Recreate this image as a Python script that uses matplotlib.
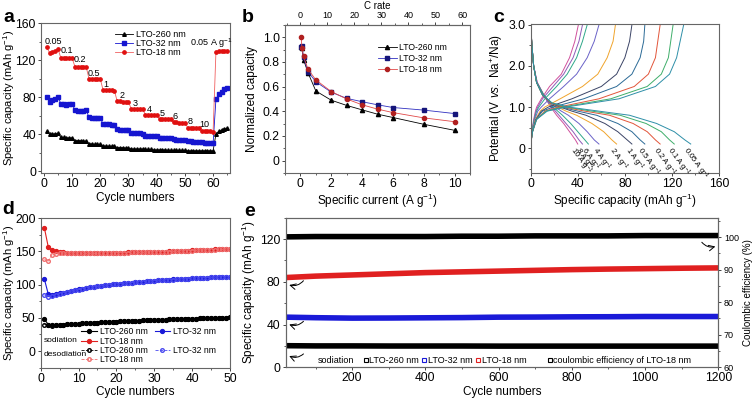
import matplotlib.pyplot as plt
from matplotlib.ticker import MultipleLocator, FixedLocator
from matplotlib.lines import Line2D

plt.rcParams['font.family'] = ['Liberation Sans', 'DejaVu Sans']
plt.rcParams['mathtext.fontset'] = 'custom'
plt.rcParams['mathtext.rm'] = 'Liberation Sans'
plt.rcParams['mathtext.it'] = 'Liberation Sans:italic'
plt.rcParams['axes.edgecolor'] = '#666666'
plt.rcParams['axes.linewidth'] = 0.8
plt.rcParams['xtick.color'] = '#444444'
plt.rcParams['ytick.color'] = '#444444'
plt.rcParams['xtick.labelcolor'] = 'black'
plt.rcParams['ytick.labelcolor'] = 'black'

# ---------------- panel a: rate capability ----------------
cycles_a = list(range(1, 66))
cap260_a = [43, 40, 40, 40.5, 41, 36.5, 36.5, 36, 36, 36, 33, 33, 33, 32.5, 32.5,
            29.5, 29.5, 29, 29, 29, 27.5, 27, 27, 27, 27, 25.5, 25.5, 25.5, 25, 25,
            24, 24, 24, 24, 24, 23.5, 23.5, 23.5, 23, 23, 23, 23, 23, 22.5, 22.5,
            22.5, 22.5, 22.5, 22.5, 22.5, 22, 22, 22, 22, 22, 22, 22, 22, 22, 22,
            40, 43, 44.5, 46, 46.5]
cap32_a = [80, 75, 76.5, 78, 80, 73, 72, 71.5, 72, 73, 66, 65, 65, 65, 66,
           58, 57.5, 57, 57, 57, 51, 50.5, 50.5, 50, 50, 45, 44.5, 44.5, 44, 44,
           41.5, 41, 41, 41, 40.5, 38.5, 38.5, 38, 38, 38, 36, 36, 35.8, 35.5, 35.5,
           34.5, 34, 34, 34, 33.8, 32.5, 32.2, 32, 32, 32, 31, 30.5, 30.4, 30.3, 30.2,
           77.7, 83, 86, 88.4, 90]
cap18_a = [134, 128, 129, 130, 132, 122.5, 122.5, 122.5, 122.3, 122.3,
           113, 112.8, 112.8, 112.5, 112.5, 100, 100, 99.8, 99.5, 99.5,
           87.5, 87.3, 87.3, 87.2, 87, 75.5, 75.3, 75.2, 75, 75,
           67, 67, 67, 66.8, 66.8, 61, 60.8, 60.8, 60.7, 60.6,
           56.3, 56.2, 56.2, 56, 56, 52.7, 52.6, 52.5, 52.5, 52.4,
           47, 46.8, 46.8, 46.7, 46.6, 43, 43, 43, 42.9, 42.8,
           129, 129.5, 129.5, 130, 130]
rate_labels_a = ['0.05', '0.1', '0.2', '0.5', '1', '2', '3', '4', '5', '6', '8', '10']
rate_label_x = [3.2, 8.2, 12.8, 17.8, 22, 27.7, 32.5, 37.3, 42.1, 46.6, 51.8, 57]
rate_label_y = [140, 130, 120.5, 105.5, 93.5, 82, 73, 67, 62.5, 59.5, 53.5, 50]

# ---------------- panel b: normalized capacity ----------------
current_b = [0.05, 0.1, 0.2, 0.5, 1, 2, 3, 4, 5, 6, 8, 10]
norm260_b = [0.92, 0.91, 0.82, 0.71, 0.565, 0.49, 0.448, 0.412, 0.377, 0.35, 0.295, 0.246]
norm32_b = [0.92, 0.93, 0.84, 0.72, 0.64, 0.555, 0.505, 0.478, 0.453, 0.431, 0.41, 0.382]
norm18_b = [1.0, 0.91, 0.845, 0.74, 0.655, 0.56, 0.50, 0.453, 0.418, 0.39, 0.347, 0.316]

# ---------------- panel c: charge/discharge profiles ----------------
rates_c = ['10', '8', '6', '4', '2', '1', '0.5', '0.2', '0.1', '0.05']
colors_c = ['#d0509c', '#8f5bb8', '#2fa88a', '#6a62c8', '#f0a42c',
            '#3b4466', '#2b6a96', '#e2553a', '#3fae6a', '#2e8fa8']
v_dis = [3.0, 2.5, 2.0, 1.6, 1.3, 1.1, 1.0, 0.9, 0.8, 0.6, 0.4, 0.2, 0.1]
dis_cap = {
    '10':   [0, 1, 2.5, 5.5, 11, 15, 17, 19.5, 22, 28, 33, 38, 40],
    '8':    [0, 1, 2.5, 5.5, 11, 15, 18, 21, 24, 30, 36, 41, 44],
    '6':    [0, 1, 2.5, 5, 11, 16, 19, 23, 27, 34, 40, 46, 49],
    '4':    [0, 1, 2.5, 5, 10, 16, 21, 26, 32, 41, 48, 54, 58],
    '2':    [0, 1, 2.5, 5, 10, 17, 23, 30, 39, 52, 62, 69, 73],
    '1':    [0, 1, 2.5, 5, 10, 17, 25, 35, 47, 63, 74, 82, 86],
    '0.5':  [0, 1, 2.5, 5, 10, 17, 26, 40, 56, 74, 86, 93, 97],
    '0.2':  [0, 1, 2.5, 5, 10, 17, 28, 46, 67, 87, 99, 106, 110],
    '0.1':  [0, 1, 2.5, 5, 10, 18, 30, 52, 76, 98, 111, 118, 122],
    '0.05': [0, 1, 2.5, 5, 10, 18, 32, 58, 84, 107, 122, 131, 136],
}
v_chg = [0.1, 0.4, 0.7, 0.9, 1.0, 1.2, 1.5, 1.8, 2.2, 2.6, 3.0]
chg_cap = {
    '10':   [0, 1, 2.5, 4, 5, 9, 16, 26, 33, 37.5, 40.5],
    '8':    [0, 1, 3, 4.5, 6, 10, 19, 28, 36, 41, 44],
    '6':    [0, 1, 3, 5, 7, 12, 22, 31, 39, 44, 48],
    '4':    [0, 1.5, 3.5, 6, 9, 16, 28, 39, 48, 54, 58],
    '2':    [0, 1.5, 4, 8, 12, 25, 44, 57, 65, 70, 72],
    '1':    [0, 1.5, 4.5, 9, 15, 35, 60, 73, 80, 84, 86],
    '0.5':  [0, 1.5, 4.5, 10, 19, 45, 73, 86, 93, 96, 97],
    '0.2':  [0, 1.5, 5, 12, 24, 58, 88, 100, 106, 108, 110],
    '0.1':  [0, 1.5, 5, 13, 27, 68, 99, 111, 117, 119, 121],
    '0.05': [0, 1.5, 5, 14, 30, 75, 106, 118, 124, 127, 130],
}

# ---------------- panel d: cycling at low rate ----------------
cycles_d = list(range(1, 51))
sod260_d = [48, 40, 39, 39, 39.5, 40, 40.5, 41, 41, 41.5, 42, 42, 42.5, 43, 43,
            43.5, 44, 44, 44.5, 44.5, 45, 45, 45.5, 45.5, 46, 46, 46.5, 46.5, 47, 47,
            47, 47.5, 47.5, 48, 48, 48, 48.5, 48.5, 49, 49, 49, 49.5, 49.5, 49.5, 50,
            50, 50.5, 50.5, 50.5, 51]
sod32_d = [108, 86, 85, 86, 87, 88, 89.5, 90.5, 91.5, 93, 94, 95, 96, 97, 97.5,
           98.5, 99, 100, 100.5, 101, 101.5, 102, 102.5, 103, 103.5, 104, 104.5, 105, 105.5, 106,
           106.5, 107, 107, 107.5, 108, 108, 108.5, 109, 109, 109.5, 110, 110, 110.5, 110.5, 111,
           111, 111.5, 111.5, 112, 112]
sod18_d = [185, 157, 152, 150, 149, 148.5, 148, 148, 148, 147.5, 147.5, 147.5, 147.5, 147.5, 147.5,
           147.5, 147.5, 148, 148, 148, 148, 148, 148.5, 148.5, 148.5, 148.5, 149, 149, 149, 149,
           149.5, 149.5, 149.5, 150, 150, 150, 150.5, 150.5, 151, 151.5, 152, 152, 152, 152.5, 152.5,
           153, 153, 153, 153.5, 154]
des260_d = [40, 39, 38.5, 39, 39.5, 40, 40.5, 41, 41, 41.5, 42, 42, 42.5, 43, 43,
            43.5, 44, 44, 44.5, 44.5, 45, 45, 45.5, 45.5, 46, 46, 46.5, 46.5, 47, 47,
            47, 47.5, 47.5, 48, 48, 48, 48.5, 48.5, 49, 49, 49, 49.5, 49.5, 49.5, 50,
            50, 50.5, 50.5, 50.5, 51]
des32_d = [84.5, 82, 83, 85, 86.5, 88, 89, 90, 91.5, 92.5, 93.5, 95, 96, 96.5, 97.5,
           98, 99, 99.5, 100.5, 101, 101.5, 102, 102.5, 103, 103.5, 104, 104.5, 105, 105.5, 106,
           106.5, 106.5, 107, 107.5, 107.5, 108, 108.5, 108.5, 109, 109.5, 109.5, 110, 110.5, 110.5, 111,
           111, 111.5, 111.5, 111.5, 112]
des18_d = [138, 135, 145, 146.5, 147.5, 147.5, 147.5, 147.5, 147.5, 147, 147, 147, 147, 147, 147,
           147, 147.5, 147.5, 147.5, 148, 148, 148, 148, 148.5, 148.5, 148.5, 148.5, 149, 149, 149,
           149, 149.5, 149.5, 149.5, 150, 150, 150.5, 150.5, 151, 151, 151.5, 152, 152, 152, 152.5,
           152.5, 153, 153, 153.5, 153.5]

# ---------------- panel e: long cycling ----------------
cycles_e = [20, 100, 200, 300, 400, 500, 600, 700, 800, 900, 1000, 1100, 1200]
cap260_e = [20.2, 20, 20, 19.9, 19.9, 19.9, 19.8, 19.8, 19.8, 19.8, 19.8, 19.8, 19.8]
cap32_e = [46.9, 46.4, 46, 46.1, 46.3, 46.5, 46.9, 47, 47.2, 47.3, 47.5, 47.5, 47.5]
cap18_e = [84, 85.3, 86.4, 87.5, 88.6, 89.3, 90, 90.7, 91.4, 91.9, 92.3, 92.7, 93]
ce18_e = [100.1, 100.2, 100.2, 100.2, 100.2, 100.3, 100.3, 100.4, 100.4, 100.4, 100.5, 100.5, 100.5]

fig = plt.figure(figsize=(7.53, 4.0), dpi=100)

LAB = 8.5
YLAB = 8
tick_kw = dict(direction='out', length=2.5, width=0.7, labelsize=8.7, pad=1.2)
minor_kw = dict(direction='out', length=1.6, width=0.6)

# ===== a =====
ax = fig.add_axes([0.0545, 0.5675, 0.251, 0.375])
ax.plot(cycles_a, cap260_a, color='black', lw=0.6, marker='^', ms=2.6, label='LTO-260 nm')
ax.plot(cycles_a, cap32_a, color='#1515d0', lw=0.6, marker='s', ms=2.4, label='LTO-32 nm')
ax.plot(cycles_a, cap18_a, color='#f06060', lw=0.6, marker='o', ms=2.4, mfc='#e01010', mec='#e01010', label='LTO-18 nm')
for t, x, y in zip(rate_labels_a, rate_label_x, rate_label_y):
    ax.text(x, y, t, fontsize=6.5, ha='center', va='center')
ax.text(59.5, 138, '0.05 A g$^{-1}$', fontsize=6.5, ha='center', va='center')
ax.set_xlim(-1, 66)
ax.set_ylim(-2, 160)
ax.xaxis.set_major_locator(MultipleLocator(10))
ax.xaxis.set_minor_locator(MultipleLocator(5))
ax.yaxis.set_major_locator(MultipleLocator(40))
ax.yaxis.set_minor_locator(MultipleLocator(20))
ax.tick_params(which='major', **tick_kw)
ax.tick_params(which='minor', **minor_kw)
ax.set_xlabel('Cycle numbers', fontsize=LAB, labelpad=1)
ax.set_ylabel('Specific capacity (mAh g$^{-1}$)', fontsize=YLAB)
ax.yaxis.set_label_coords(-0.127, 0.5)
ax.legend(loc='upper left', bbox_to_anchor=(0.39, 0.955), fontsize=6.5, frameon=False,
          handlelength=2.0, handletextpad=0.3, labelspacing=0.0, borderpad=0, borderaxespad=0)

# ===== b =====
ax = fig.add_axes([0.3785, 0.5675, 0.2457, 0.37])
ax.plot(current_b, norm260_b, color='black', lw=0.6, marker='^', ms=3, label='LTO-260 nm')
ax.plot(current_b, norm32_b, color='#3030c0', lw=0.6, marker='s', ms=2.8, mfc='#15157a', mec='#15157a', label='LTO-32 nm')
ax.plot(current_b, norm18_b, color='#e04848', lw=0.6, marker='o', ms=3, mfc='#b02020', mec='#b02020', label='LTO-18 nm')
ax.set_xlim(-1, 11)
ax.set_ylim(-0.1, 1.1)
ax.xaxis.set_major_locator(MultipleLocator(2))
ax.xaxis.set_minor_locator(MultipleLocator(1))
ax.yaxis.set_major_locator(FixedLocator([0, 0.2, 0.4, 0.6, 0.8, 1.0]))
ax.set_yticklabels(['0', '0.2', '0.4', '0.6', '0.8', '1.0'])
ax.yaxis.set_minor_locator(MultipleLocator(0.1))
ax.tick_params(which='major', **tick_kw)
ax.tick_params(which='minor', **minor_kw)
ax.set_xlabel('Specific current (A g$^{-1}$)', fontsize=LAB, labelpad=1)
ax.set_ylabel('Normalized capacity', fontsize=LAB)
ax.yaxis.set_label_coords(-0.145, 0.5)
ax.legend(loc='upper left', bbox_to_anchor=(0.5, 0.875), fontsize=6.2, frameon=False,
          handlelength=2.3, handletextpad=0.2, labelspacing=0.2, borderpad=0, borderaxespad=0)
top = ax.secondary_xaxis('top', functions=(lambda x: x / 0.175, lambda c: c * 0.175))
top.xaxis.set_major_locator(MultipleLocator(10))
top.xaxis.set_minor_locator(MultipleLocator(5))
top.tick_params(which='major', direction='out', length=2.5, width=0.7, labelsize=6.5, pad=1)
top.tick_params(which='minor', **minor_kw)
top.set_xlabel('C rate', fontsize=7, labelpad=1.5)

# ===== c =====
ax = fig.add_axes([0.7048, 0.568, 0.25, 0.372])
for r, c in zip(rates_c, colors_c):
    ax.plot(dis_cap[r], v_dis, color=c, lw=0.7)
    ax.plot(chg_cap[r], v_chg, color=c, lw=0.7)
    ax.text(dis_cap[r][-1] - 0.5, 0.06, r + ' A g$^{-1}$', fontsize=5.5, rotation=-54,
            rotation_mode='anchor', ha='left', va='top')
ax.set_xlim(0, 160)
ax.set_ylim(-0.6, 3.02)
ax.xaxis.set_major_locator(MultipleLocator(40))
ax.xaxis.set_minor_locator(MultipleLocator(20))
ax.yaxis.set_major_locator(FixedLocator([0, 1, 2, 3]))
ax.set_yticklabels(['0', '1.0', '2.0', '3.0'])
ax.yaxis.set_minor_locator(MultipleLocator(0.5))
ax.tick_params(which='major', **tick_kw)
ax.tick_params(which='minor', **minor_kw)
ax.set_xlabel('Specific capacity (mAh g$^{-1}$)', fontsize=LAB, labelpad=1)
ax.set_ylabel('Potential (V $vs.$ Na$^{+}$/Na)', fontsize=LAB)
ax.yaxis.set_label_coords(-0.135, 0.5)

# ===== d =====
ax = fig.add_axes([0.054, 0.0808, 0.2514, 0.3735])
h1, = ax.plot(cycles_d, sod260_d, color='black', lw=0.8, marker='o', ms=2.8)
h2, = ax.plot(cycles_d, sod32_d, color='#1a1ad8', lw=0.8, marker='o', ms=2.8)
h3, = ax.plot(cycles_d, sod18_d, color='#e02020', lw=0.8, marker='o', ms=2.8)
h4, = ax.plot(cycles_d, des260_d, color='black', lw=0.6, ls='--', marker='o', ms=2.6, mfc='none')
h5, = ax.plot(cycles_d, des32_d, color='#4a4af0', lw=0.6, ls='--', marker='o', ms=2.6, mfc='none')
h6, = ax.plot(cycles_d, des18_d, color='#f07070', lw=0.6, ls='--', marker='o', ms=2.6, mfc='none')
ax.set_xlim(0, 50)
ax.set_ylim(-25, 200)
ax.xaxis.set_major_locator(MultipleLocator(10))
ax.xaxis.set_minor_locator(MultipleLocator(5))
ax.yaxis.set_major_locator(MultipleLocator(50))
ax.yaxis.set_minor_locator(MultipleLocator(25))
ax.tick_params(which='major', **tick_kw)
ax.tick_params(which='minor', **minor_kw)
ax.set_xlabel('Cycle numbers', fontsize=LAB, labelpad=1)
ax.set_ylabel('Specific capacity (mAh g$^{-1}$)', fontsize=YLAB)
ax.yaxis.set_label_coords(-0.127, 0.5)
leg_kw = dict(fontsize=6.2, frameon=False, ncol=2, handlelength=1.8, handletextpad=0.35,
              labelspacing=0.05, columnspacing=0.8, borderpad=0, borderaxespad=0, loc='center left')
lg1 = ax.legend([h1, h3, h2], ['LTO-260 nm', 'LTO-18 nm', 'LTO-32 nm'],
                bbox_to_anchor=(0.215, 0.209), **leg_kw)
ax.add_artist(lg1)
ax.legend([h4, h6, h5], ['LTO-260 nm', 'LTO-18 nm', 'LTO-32 nm'],
          bbox_to_anchor=(0.215, 0.084), **leg_kw)
ax.text(0.015, 0.185, 'sodiation', transform=ax.transAxes, fontsize=6, va='center')
ax.text(0.015, 0.085, 'desodiation', transform=ax.transAxes, fontsize=6, va='center')

# ===== e =====
ax = fig.add_axes([0.3792, 0.0818, 0.5747, 0.374])
ax2 = ax.twinx()
ax.plot(cycles_e, cap260_e, color='black', lw=4, solid_capstyle='butt')
ax.plot(cycles_e, cap32_e, color='#1a1ad8', lw=4, solid_capstyle='butt')
ax.plot(cycles_e, cap18_e, color='#e02020', lw=4, solid_capstyle='butt')
ax2.plot(cycles_e, ce18_e, color='black', lw=4, solid_capstyle='butt')
ax.set_xlim(18, 1200)
ax.set_ylim(0, 140)
ax2.set_ylim(60, 106)
ax.xaxis.set_major_locator(MultipleLocator(200))
ax.xaxis.set_minor_locator(MultipleLocator(100))
ax.yaxis.set_major_locator(MultipleLocator(40))
ax.yaxis.set_minor_locator(MultipleLocator(20))
ax2.yaxis.set_major_locator(MultipleLocator(10))
ax2.yaxis.set_minor_locator(MultipleLocator(5))
ax.tick_params(which='major', **tick_kw)
ax.tick_params(which='minor', **minor_kw)
ax2.tick_params(which='major', direction='out', length=2.5, width=0.7, labelsize=6.5, pad=1.5)
ax2.tick_params(which='minor', **minor_kw)
ax.set_xlabel('Cycle numbers', fontsize=LAB, labelpad=1)
ax.set_ylabel('Specific capacity (mAh g$^{-1}$)', fontsize=LAB)
ax.yaxis.set_label_coords(-0.063, 0.5)
ax2.set_ylabel('Coulombic efficiency (%)', fontsize=7, labelpad=3)
arrow = dict(arrowstyle='->', color='black', lw=0.7, connectionstyle='arc3,rad=-0.3', shrinkA=0, shrinkB=0)
for y0, y1 in [(81, 77), (43, 40), (12.5, 10.5)]:
    ax.annotate('', xy=(28, y1), xytext=(67, y0), arrowprops=arrow)
ax.annotate('', xy=(1192, 113), xytext=(1155, 117), arrowprops=dict(arrow, connectionstyle='arc3,rad=0.3'))
mk = dict(marker='s', ms=2.3, mfc='none', lw=0, mew=0.8)
handles = [Line2D([], [], color='black', **mk), Line2D([], [], color='#1a1ad8', **mk),
           Line2D([], [], color='#e02020', **mk)]
lg = ax.legend(handles, ['LTO-260 nm', 'LTO-32 nm', 'LTO-18 nm'], ncol=3, loc='center left',
               bbox_to_anchor=(0.18, 0.047), fontsize=6.5, frameon=False, handlelength=0.5,
               handletextpad=0.15, columnspacing=0.35, borderpad=0, borderaxespad=0)
ax.add_artist(lg)
ax.legend([Line2D([], [], color='black', **mk)], ['coulombic efficiency of LTO-18 nm'],
          loc='center left', bbox_to_anchor=(0.605, 0.047), fontsize=6.5, frameon=False,
          handlelength=0.5, handletextpad=0.15, borderpad=0, borderaxespad=0)
ax.text(0.075, 0.047, 'sodiation', transform=ax.transAxes, fontsize=6.5, va='center')

for lbl, x, y in [('a', 0.004, 0.955), ('b', 0.321, 0.955), ('c', 0.655, 0.955),
                  ('d', 0.003, 0.475), ('e', 0.325, 0.471)]:
    fig.text(x, y, lbl, fontsize=14, fontweight='bold', va='center')

fig.savefig('out.png', dpi=100)
